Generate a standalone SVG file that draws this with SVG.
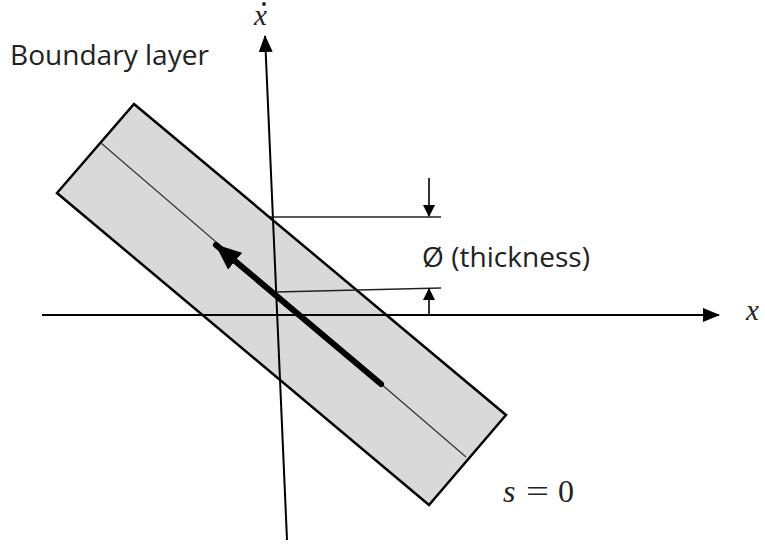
<svg xmlns="http://www.w3.org/2000/svg" width="765" height="546" viewBox="0 0 765 546">
<style>
.ax{stroke:#000;stroke-width:2;fill:none}
.thin{stroke:#222;stroke-width:1.3;fill:none}
.lbl{font-family:"Open Sans","Liberation Sans",sans-serif;fill:#222}
.math{font-family:"Liberation Serif",serif;font-style:italic;fill:#222}
.rm{font-family:"Liberation Serif",serif;fill:#222}
</style>
<defs>
<marker id="ah" markerWidth="12" markerHeight="12" refX="11" refY="6" orient="auto" markerUnits="userSpaceOnUse" viewBox="0 0 12 12">
<path d="M0,0 L12,6 L0,12 z" fill="#000"/>
</marker>
<marker id="ahs" markerWidth="17" markerHeight="14" refX="16" refY="7" orient="auto" markerUnits="userSpaceOnUse" viewBox="0 0 17 14">
<path d="M0,0 L17,7 L0,14 z" fill="#000"/>
</marker>
<marker id="ahb" markerWidth="26" markerHeight="22" refX="25" refY="11" orient="auto" markerUnits="userSpaceOnUse" viewBox="0 0 26 22">
<path d="M0,0 L26,11 L0,22 z" fill="#000"/>
</marker>
</defs>
<rect width="765" height="546" fill="#fff"/>
<g id="boundary-layer">
<polygon points="134,104 506,415 429,505 57,193" fill="#d9d9d9" stroke="#000" stroke-width="2.5" stroke-linejoin="miter"/>
<line x1="101" y1="143" x2="466" y2="457" stroke="#333" stroke-width="1.2"/>
</g>
<g id="connectors">
<line class="ax" x1="42" y1="315" x2="719" y2="315" marker-end="url(#ahs)"/>
<line class="ax" x1="287" y1="540" x2="265" y2="36" marker-end="url(#ahs)"/>
<line class="thin" x1="270" y1="217" x2="441" y2="217"/>
<line class="thin" x1="276" y1="292" x2="441" y2="288"/>
<line stroke="#000" stroke-width="1.6" x1="429" y1="178" x2="429" y2="216" marker-end="url(#ah)"/>
<line stroke="#000" stroke-width="1.6" x1="429" y1="314" x2="429" y2="289" marker-end="url(#ah)"/>
<line stroke="#000" stroke-width="6" stroke-linecap="round" x1="381" y1="384" x2="216" y2="245" marker-end="url(#ahb)"/>
</g>
<g id="labels">
<text class="lbl" x="10" y="65" font-size="28" textLength="199" lengthAdjust="spacingAndGlyphs">Boundary layer</text>
<text class="lbl" x="422" y="267" font-size="27" textLength="168" lengthAdjust="spacingAndGlyphs">Ø (thickness)</text>
<text class="math" x="254" y="25" font-size="29">x</text>
<circle cx="264" cy="4" r="1.9" fill="#222"/>
<text class="math" x="746" y="320" font-size="29">x</text>
<text class="math" x="503" y="502" font-size="32">s</text>
<text class="rm" x="526" y="502" font-size="32" textLength="23" lengthAdjust="spacingAndGlyphs">=</text>
<text class="rm" x="558" y="502" font-size="32">0</text>
</g>
</svg>
